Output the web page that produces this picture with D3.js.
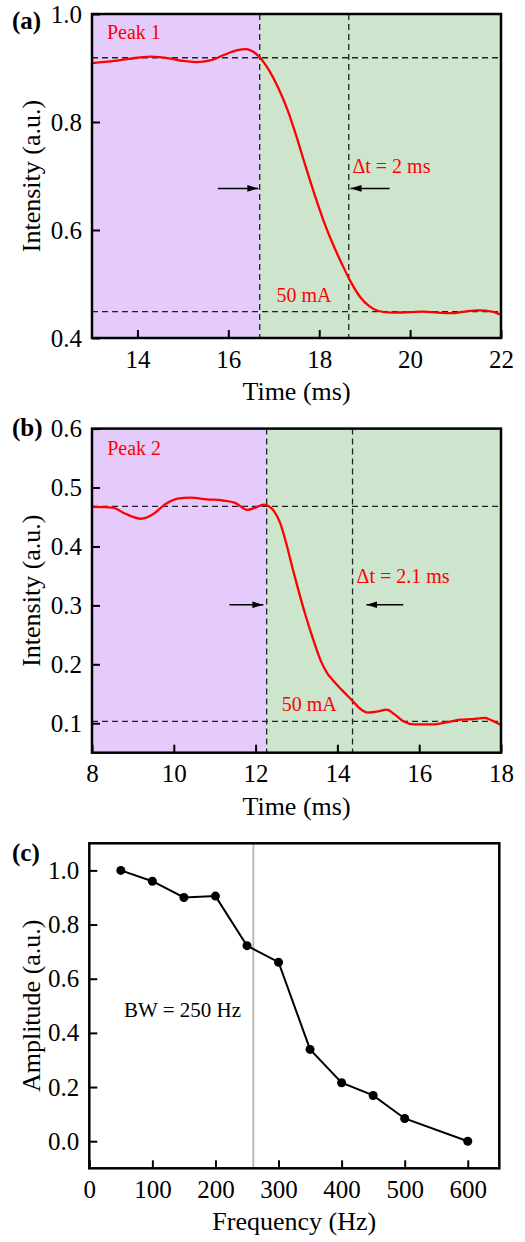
<!DOCTYPE html>
<html>
<head>
<meta charset="utf-8">
<script src="https://cdn.jsdelivr.net/npm/d3@7"></script>
<style>
  body { margin: 0; background: #fff; }
  text { font-family: "Liberation Serif", "Times New Roman", serif; }
</style>
</head>
<body>
<div id="chart"></div>
<script>
// panel (a) trace
var timeA = [13.0, 13.5, 14.0, 14.3, 14.7, 15.0, 15.3, 15.6, 15.9, 16.2, 16.4, 16.55, 16.7, 16.9, 17.1, 17.3, 17.5, 17.7, 17.9, 18.1, 18.3, 18.5, 18.7, 18.9, 19.1, 19.3, 19.6, 20.0, 20.3, 20.6, 20.9, 21.2, 21.5, 21.8, 22.0];
var intensityA = [0.909, 0.913, 0.919, 0.921, 0.918, 0.913, 0.911, 0.914, 0.924, 0.933, 0.935, 0.93, 0.919, 0.895, 0.863, 0.823, 0.773, 0.718, 0.665, 0.616, 0.574, 0.537, 0.503, 0.476, 0.459, 0.450, 0.447, 0.448, 0.449, 0.447, 0.446, 0.449, 0.451, 0.449, 0.443];

// panel (b) trace
var timeB = [8.0, 8.5, 8.8, 9.2, 9.5, 9.8, 10.1, 10.4, 10.8, 11.2, 11.5, 11.8, 12.0, 12.2, 12.3, 12.45, 12.6, 12.75, 12.9, 13.05, 13.2, 13.4, 13.6, 13.75, 13.9, 14.1, 14.37, 14.55, 14.75, 15.0, 15.2, 15.4, 15.6, 15.9, 16.3, 16.7, 17.0, 17.3, 17.6, 17.8, 18.0];
var intensityB = [0.467, 0.466, 0.456, 0.447, 0.455, 0.472, 0.481, 0.483, 0.480, 0.478, 0.474, 0.462, 0.466, 0.471, 0.469, 0.46, 0.44, 0.405, 0.364, 0.325, 0.288, 0.244, 0.205, 0.185, 0.172, 0.157, 0.138, 0.125, 0.118, 0.120, 0.123, 0.115, 0.104, 0.098, 0.098, 0.102, 0.106, 0.107, 0.109, 0.104, 0.097];

// panel (c) points
var freqC = [50, 100, 150, 200, 250, 300, 350, 400, 450, 500, 600];
var ampC = [1.0, 0.96, 0.90, 0.905, 0.722, 0.661, 0.339, 0.216, 0.169, 0.084, 0.0];

// tick values
var xTicksA = [14, 16, 18, 20, 22];
var yTicksA = [0.4, 0.6, 0.8, 1.0];
var xTicksB = [8, 10, 12, 14, 16, 18];
var yTicksB = [0.1, 0.2, 0.3, 0.4, 0.5, 0.6];
var xTicksC = [0, 100, 200, 300, 400, 500, 600];
var yTicksC = [0.0, 0.2, 0.4, 0.6, 0.8, 1.0];

var svg = d3.select("#chart").append("svg")
    .attr("width", 525)
    .attr("height", 1242);

svg.append("defs").append("marker")
    .attr("id", "arrow")
    .attr("viewBox", "0 0 10 6")
    .attr("refX", 10)
    .attr("refY", 3)
    .attr("markerWidth", 11)
    .attr("markerHeight", 7)
    .attr("markerUnits", "userSpaceOnUse")
    .attr("orient", "auto")
    .append("path")
    .attr("d", "M0,0 L10,3 L0,6 Z")
    .style("fill", "#000");

function axes(g, x, y, xt, yt, xf, top, bottom, left, right) {
    g.append("g")
        .attr("transform", "translate(0," + bottom + ")")
        .call(d3.axisBottom(x).tickValues(xt).tickFormat(xf).tickSizeInner(-8).tickSizeOuter(0).tickPadding(12))
        .call(s => s.select(".domain").remove());
    g.append("g")
        .attr("transform", "translate(" + left + ",0)")
        .call(d3.axisLeft(y).tickValues(yt).tickFormat(d3.format(".1f")).tickSizeInner(-8).tickSizeOuter(0).tickPadding(10))
        .call(s => s.select(".domain").remove());
    g.selectAll(".tick line").style("stroke", "#000").style("stroke-width", 2);
    g.selectAll(".tick text")
        .style("font-family", "'Liberation Serif', 'Times New Roman', serif")
        .style("font-size", "25px")
        .style("fill", "#000");
}

function frame(g, top, bottom, left, right) {
    g.append("rect")
        .attr("x", left).attr("y", top)
        .attr("width", right - left).attr("height", bottom - top)
        .style("fill", "none")
        .style("stroke", "#000")
        .style("stroke-width", 2.5);
}

function label(g, txt, x, y, size, color, weight) {
    g.append("text")
        .attr("x", x).attr("y", y)
        .text(txt)
        .style("font-size", size + "px")
        .style("fill", color)
        .style("font-weight", weight || "normal");
}

function timePanel(p) {
    var g = svg.append("g");
    var x = d3.scaleLinear().domain(p.xd).range([p.left, p.right]);
    var y = d3.scaleLinear().domain(p.yd).range([p.bottom, p.top]);

    g.append("rect")
        .attr("x", p.left).attr("y", p.top)
        .attr("width", x(p.t1) - p.left).attr("height", p.bottom - p.top)
        .style("fill", "#e5cbfb");
    g.append("rect")
        .attr("x", x(p.t1)).attr("y", p.top)
        .attr("width", p.right - x(p.t1)).attr("height", p.bottom - p.top)
        .style("fill", "#cde5cc");

    var dash = function(x1, y1, x2, y2) {
        g.append("line")
            .attr("x1", x1).attr("y1", y1).attr("x2", x2).attr("y2", y2)
            .style("stroke", "#222")
            .style("stroke-width", 1.3)
            .style("stroke-dasharray", "6,4");
    };
    dash(x(p.t1), p.top, x(p.t1), p.bottom);
    dash(x(p.t2), p.top, x(p.t2), p.bottom);
    dash(p.left, y(p.hi), p.right, y(p.hi));
    dash(p.left, y(p.lo), p.right, y(p.lo));

    var line = d3.line()
        .x((d, i) => x(p.t[i]))
        .y(d => y(d))
        .curve(d3.curveMonotoneX);
    g.append("path")
        .datum(p.v)
        .attr("d", line)
        .style("fill", "none")
        .style("stroke", "#ff0000")
        .style("stroke-width", 2.3);

    // arrows
    g.append("line")
        .attr("x1", x(p.arR[0])).attr("x2", x(p.arR[1]))
        .attr("y1", y(p.arY)).attr("y2", y(p.arY))
        .style("stroke", "#000").style("stroke-width", 1.5)
        .attr("marker-end", "url(#arrow)");
    g.append("line")
        .attr("x1", x(p.arL[0])).attr("x2", x(p.arL[1]))
        .attr("y1", y(p.arY)).attr("y2", y(p.arY))
        .style("stroke", "#000").style("stroke-width", 1.5)
        .attr("marker-end", "url(#arrow)");

    label(g, p.peak, x(p.peakPos[0]), y(p.peakPos[1]), 20, "#ff0000");
    label(g, p.dt, x(p.dtPos[0]), y(p.dtPos[1]), 20, "#ff0000");
    label(g, "50 mA", x(p.maPos[0]), y(p.maPos[1]), 20, "#ff0000");

    axes(g, x, y, p.xt, p.yt, d3.format("d"), p.top, p.bottom, p.left, p.right);
    frame(g, p.top, p.bottom, p.left, p.right);

    label(g, p.tag, 12, p.tagY, 25, "#000", "bold");
    g.append("text")
        .attr("x", (p.left + p.right) / 2).attr("y", p.bottom + 62)
        .attr("text-anchor", "middle")
        .text("Time (ms)")
        .style("font-size", "26px");
    g.append("text")
        .attr("transform", "translate(40," + (p.top + p.bottom) / 2 + ") rotate(-90)")
        .attr("text-anchor", "middle")
        .text("Intensity (a.u.)")
        .style("font-size", "26px");
}

timePanel({
    left: 92, right: 501, top: 14, bottom: 338,
    xd: [13, 22], yd: [0.4, 1.0],
    t: timeA, v: intensityA, xt: xTicksA, yt: yTicksA,
    t1: 16.69, t2: 18.65, hi: 0.919, lo: 0.449,
    arY: 0.677, arR: [15.77, 16.66], arL: [19.55, 18.69],
    peak: "Peak 1", peakPos: [13.33, 0.954],
    dt: "\u0394t = 2 ms", dtPos: [18.73, 0.705],
    maPos: [17.06, 0.467],
    tag: "(a)", tagY: 29
});

timePanel({
    left: 92, right: 501, top: 428.6, bottom: 752.7,
    xd: [8, 18], yd: [0.05, 0.6],
    t: timeB, v: intensityB, xt: xTicksB, yt: yTicksB,
    t1: 12.27, t2: 14.37, hi: 0.468, lo: 0.103,
    arY: 0.301, arR: [11.36, 12.19], arL: [15.61, 14.71],
    peak: "Peak 2", peakPos: [8.37, 0.555],
    dt: "\u0394t = 2.1 ms", dtPos: [14.47, 0.3375],
    maPos: [12.64, 0.1206],
    tag: "(b)", tagY: 436
});

// panel (c)
var gc = svg.append("g");
var cl = 89.3, cr = 499.3, ct = 843.3, cb = 1168.3;
var xc = d3.scaleLinear().domain([0, 650]).range([cl, cr]);
var yc = d3.scaleLinear().domain([-0.1, 1.1]).range([cb, ct]);

gc.append("line")
    .attr("x1", xc(260)).attr("x2", xc(260))
    .attr("y1", ct).attr("y2", cb)
    .style("stroke", "#bbbbbb")
    .style("stroke-width", 2);

gc.append("path")
    .datum(ampC)
    .attr("d", d3.line().x((d, i) => xc(freqC[i])).y(d => yc(d)))
    .style("fill", "none")
    .style("stroke", "#000")
    .style("stroke-width", 2);

gc.selectAll("circle")
    .data(ampC)
    .enter()
    .append("circle")
    .attr("cx", (d, i) => xc(freqC[i]))
    .attr("cy", d => yc(d))
    .attr("r", 4.5)
    .style("fill", "#000");

label(gc, "BW = 250 Hz", xc(55), yc(0.459), 21, "#000");

axes(gc, xc, yc, xTicksC, yTicksC, d3.format("d"), ct, cb, cl, cr);
frame(gc, ct, cb, cl, cr);

label(gc, "(c)", 12, 861, 25, "#000", "bold");
gc.append("text")
    .attr("x", (cl + cr) / 2).attr("y", cb + 62)
    .attr("text-anchor", "middle")
    .text("Frequency (Hz)")
    .style("font-size", "26px");
gc.append("text")
    .attr("transform", "translate(40," + (ct + cb) / 2 + ") rotate(-90)")
    .attr("text-anchor", "middle")
    .text("Amplitude (a.u.)")
    .style("font-size", "26px");
</script>
</body>
</html>
